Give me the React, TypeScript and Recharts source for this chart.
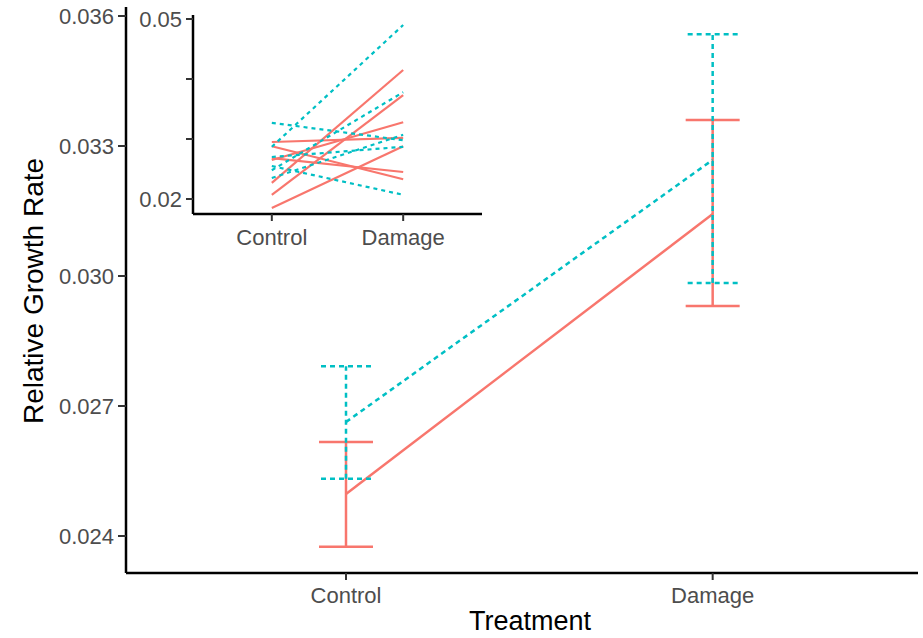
import React from 'react';
import { ComposedChart, LineChart, Line, XAxis, YAxis, ErrorBar } from 'recharts';

const TREATMENTS = ['Control', 'Damage'];
const MAIN_Y_TICKS = [0.024, 0.027, 0.03, 0.033, 0.036];
const INSET_Y_TICKS = [0.02, 0.03, 0.04, 0.05];
const INSET_Y_LABELS = ['0.02', '', '', '0.05'];

// group means with interval ends, Control then Damage
const RED_MEAN = [0.02497, 0.03143];
const RED_LOW = [0.02375, 0.02931];
const RED_HIGH = [0.02617, 0.0336];
const CYAN_MEAN = [0.02663, 0.03268];
const CYAN_LOW = [0.02532, 0.02984];
const CYAN_HIGH = [0.02792, 0.03558];

// inset: one line per individual
const RED_CONTROL = [0.0185, 0.0207, 0.0227, 0.0295, 0.0288, 0.0268, 0.0265];
const RED_DAMAGE = [0.0288, 0.0373, 0.0415, 0.0302, 0.0233, 0.0245, 0.0328];
const CYAN_CONTROL = [0.0327, 0.0287, 0.027, 0.0255, 0.0248, 0.0235];
const CYAN_DAMAGE = [0.0298, 0.049, 0.0287, 0.0207, 0.0378, 0.0307];

const RED = '#F8766D';
const CYAN = '#00BFC4';
const FONT = '"Liberation Sans", Arial, sans-serif';
const TICK_COLOR = '#4D4D4D';

const mainData = TREATMENTS.map((t, i) => ({
  x: i + 1,
  red: RED_MEAN[i],
  redErr: [RED_MEAN[i] - RED_LOW[i], RED_HIGH[i] - RED_MEAN[i]],
  cyan: CYAN_MEAN[i],
  cyanErr: [CYAN_MEAN[i] - CYAN_LOW[i], CYAN_HIGH[i] - CYAN_MEAN[i]],
}));

const insetData = TREATMENTS.map((t, i) => {
  const row: Record<string, number> = { x: i + 1 };
  RED_CONTROL.forEach((v, k) => (row['r' + k] = i === 0 ? v : RED_DAMAGE[k]));
  CYAN_CONTROL.forEach((v, k) => (row['c' + k] = i === 0 ? v : CYAN_DAMAGE[k]));
  return row;
});

const tickStyle = { fontSize: 22, fill: TICK_COLOR, fontFamily: FONT };
const axisLine = { stroke: '#000', strokeWidth: 2.5 };
const tickLine = { stroke: '#333', strokeWidth: 2 };

export default function App() {
  return (
    <div style={{ position: 'absolute', left: 0, top: 0, width: 923, height: 638, background: '#fff', overflow: 'hidden' }}>
      <ComposedChart width={923} height={638} data={mainData} margin={{ top: 7, right: 5, bottom: 0, left: 0 }}>
        <XAxis
          dataKey="x"
          type="number"
          domain={[0.4, 2.56]}
          ticks={[1, 2]}
          allowDataOverflow
          tickFormatter={(v) => TREATMENTS[v - 1]}
          height={65}
          tickSize={7}
          tickMargin={7}
          axisLine={axisLine}
          tickLine={tickLine}
          tick={tickStyle}
        />
        <YAxis
          type="number"
          domain={[0.023146, 0.036208]}
          ticks={MAIN_Y_TICKS}
          allowDataOverflow
          tickFormatter={(v) => v.toFixed(3)}
          width={126}
          tickSize={8}
          tickMargin={4}
          axisLine={axisLine}
          tickLine={tickLine}
          tick={tickStyle}
        />
        <Line dataKey="red" stroke={RED} strokeWidth={2.5} dot={false} isAnimationActive={false}>
          <ErrorBar dataKey="redErr" width={27} stroke={RED} strokeWidth={2.5} />
        </Line>
        <Line dataKey="cyan" stroke={CYAN} strokeWidth={2.5} strokeDasharray="5 4" dot={false} isAnimationActive={false}>
          <ErrorBar dataKey="cyanErr" width={25} stroke={CYAN} strokeWidth={2.5} strokeDasharray="5 4" />
        </Line>
      </ComposedChart>

      <div style={{ position: 'absolute', left: 130, top: 0, width: 360, height: 260 }}>
        <LineChart width={360} height={260} data={insetData} margin={{ top: 15, right: 8, bottom: 0, left: 0 }}>
          <XAxis
            dataKey="x"
            type="number"
            domain={[0.4, 2.6]}
            ticks={[1, 2]}
            allowDataOverflow
            tickFormatter={(v) => TREATMENTS[v - 1]}
            height={46}
            tickSize={7}
            tickMargin={8}
            axisLine={axisLine}
            tickLine={tickLine}
            tick={tickStyle}
          />
          <YAxis
            type="number"
            domain={[0.0175, 0.05067]}
            ticks={INSET_Y_TICKS}
            allowDataOverflow
            tickFormatter={(v, i) => INSET_Y_LABELS[i]}
            width={63}
            tickSize={7}
            tickMargin={4}
            axisLine={axisLine}
            tickLine={tickLine}
            tick={tickStyle}
          />
          {RED_CONTROL.map((_, k) => (
            <Line key={'r' + k} dataKey={'r' + k} stroke={RED} strokeWidth={2.2} dot={false} isAnimationActive={false} />
          ))}
          {CYAN_CONTROL.map((_, k) => (
            <Line key={'c' + k} dataKey={'c' + k} stroke={CYAN} strokeWidth={2.2} strokeDasharray="4 4" dot={false} isAnimationActive={false} />
          ))}
        </LineChart>
      </div>

      <svg width={923} height={638} style={{ position: 'absolute', left: 0, top: 0, pointerEvents: 'none' }}>
        <text x={530} y={630} textAnchor="middle" fontSize={27} fontFamily={FONT} fill="#000">
          Treatment
        </text>
        <text transform="translate(43,291) rotate(-90)" textAnchor="middle" fontSize={28} fontFamily={FONT} fill="#000">
          Relative Growth Rate
        </text>
      </svg>
    </div>
  );
}
